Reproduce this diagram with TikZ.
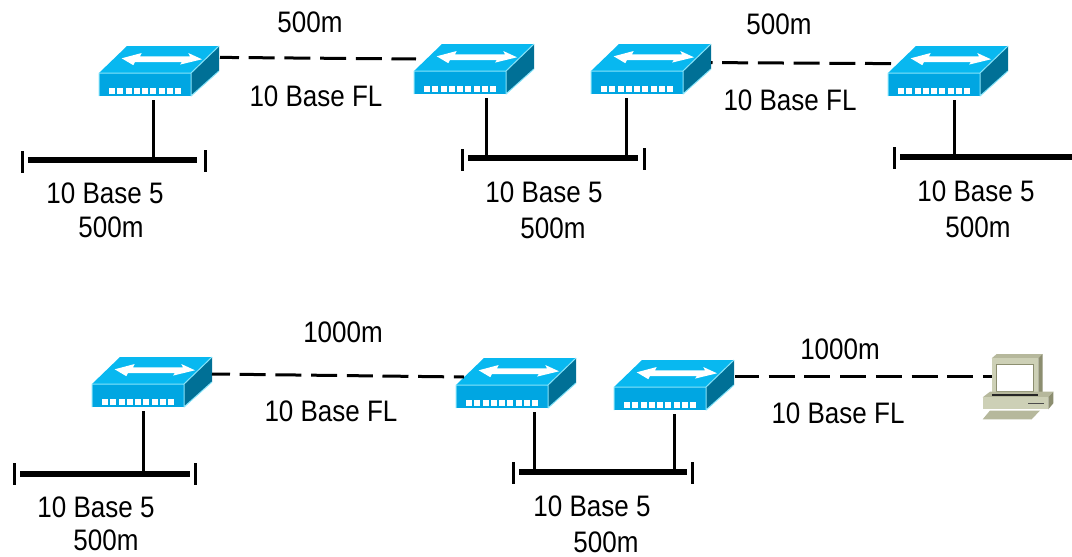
\documentclass[tikz,border=0pt]{standalone}
\usepackage{fontspec}
\setmainfont{Liberation Sans}
\definecolor{swtop}{RGB}{8,184,240}
\definecolor{swfront}{RGB}{0,166,226}
\definecolor{swside}{RGB}{0,112,150}
\definecolor{swedge}{RGB}{135,228,250}
\definecolor{pcfront}{RGB}{205,208,182}
\definecolor{pctop}{RGB}{182,184,156}
\definecolor{pcside}{RGB}{140,142,112}
\tikzset{
    label/.style={font=\fontsize{26}{28}\selectfont, inner sep=0pt, yscale=1.14, transform shape},
    link/.style={line width=3pt, dash pattern=on 26pt off 9.7pt},
    stub/.style={line width=3pt},
    cable/.style={line width=6.4pt},
    endbar/.style={line width=3pt},
    hidden/.style={inner sep=0pt, minimum width=120pt, minimum height=58pt}
}
% Switch icon: name, position
\newcommand{\switchicon}[2]{
    \node (#1) [hidden] at (#2) {};
    \begin{scope}[shift={(#2)}]
        \fill[swtop] (-60,2) -- (32,2) -- (60,-25) -- (-32,-25) -- cycle;
        \fill[swfront] (-60,2) -- (32,2) -- (32,25) -- (-60,25) -- cycle;
        \fill[swside] (32,2) -- (60,-25) -- (60,0) -- (32,25) -- cycle;
        \draw[swedge, line width=1pt, line join=round] (-60,25) -- (-60,2) -- (32,2) -- (60,-25) (32,2) -- (32,25) -- (60,0);
        \fill[white] (-37.3,-12.7) -- (-17.3,-18) -- (-19,-14.6) -- (31,-14.6) -- (29.3,-18) -- (43,-11.7) -- (21,-6.4) -- (23,-9) -- (-24,-9) -- (-25.7,-5.8) -- cycle;
        \foreach \i in {0,...,8}
            \fill[white] (-50+8.25*\i,17) rectangle ++(6.2,6.4);
    \end{scope}
}
% Cable between two x values at one y
\newcommand{\cablerun}[4]{
    \coordinate (#1a) at (#2,#4);
    \coordinate (#1b) at (#3,#4);
    \draw[cable] (#1a) -- (#1b);
}
\begin{document}
\begin{tikzpicture}[x=1pt, y=-1pt]
    \useasboundingbox (0,0) rectangle (1072,557);

    % Top row
    \switchicon{swA}{159,71}
    \switchicon{swB}{474,69}
    \switchicon{swC}{651,69}
    \switchicon{swD}{948,71}

    \coordinate (swAport) at (220,57.4);
    \coordinate (swBport) at (416,59);
    \coordinate (swCport) at (711,62.6);
    \coordinate (swDport) at (891,63.6);
    \draw[link, dash phase=7pt] (swAport) -- (swBport);
    \draw[link, dash phase=24.5pt] (swCport) -- (swDport);

    \cablerun{busA}{28}{197}{160}
    \cablerun{busB}{468}{638}{158}
    \cablerun{busC}{900}{1072}{157}
    \draw[endbar] (22,151) -- (22,173);
    \draw[endbar] (205,150) -- (205,172);
    \draw[endbar] (462,149) -- (462,171);
    \draw[endbar] (644,148) -- (644,170);
    \draw[endbar] (894,147) -- (894,169);

    \coordinate (tapA) at (153,158);
    \coordinate (tapB) at (486,156);
    \coordinate (tapC) at (626,156);
    \coordinate (tapD) at (954,155);
    \draw[stub] (tapA |- swA.south) -- (tapA);
    \draw[stub] (tapB |- swB.south) -- (tapB);
    \draw[stub] (tapC |- swC.south) -- (tapC);
    \draw[stub] (tapD |- swD.south) -- (tapD);

    \node (lenA) [label] at (310,22) {500m};
    \node (typeA) [label] at (316,96) {10 Base FL};
    \node (lenB) [label] at (779,24) {500m};
    \node (typeB) [label] at (790,100) {10 Base FL};
    \node (typeC) [label] at (105,193) {10 Base 5};
    \node (lenC) [label] at (111,227) {500m};
    \node (typeD) [label] at (544,192) {10 Base 5};
    \node (lenD) [label] at (553,228) {500m};
    \node (typeE) [label] at (976,191) {10 Base 5};
    \node (lenE) [label] at (978,227) {500m};

    % Bottom row
    \switchicon{swE}{152,382}
    \switchicon{swF}{516,383}
    \switchicon{swG}{674,385}

    % Computer
    \node (pc) [inner sep=0pt, minimum width=72pt, minimum height=66pt] at (1018,387) {};
    \begin{scope}[shift={(1018,387)}]
        \fill[pctop] (-26.3,-28.7) -- (-21.3,-33) -- (24.7,-33) -- (20.3,-28.7) -- cycle;
        \fill[pcside] (20.3,-28.7) -- (24.7,-33) -- (24.7,5) -- (20.3,8) -- cycle;
        \fill[pcfront] (-26.3,-28.7) rectangle (20.3,8);
        \fill[white, draw=pcside, line width=0.8pt] (-22,-23) rectangle (15.3,4.7);
        \fill[pctop] (-35.3,10.3) -- (-28,4.7) -- (35.3,4.7) -- (30.3,10.3) -- cycle;
        \fill[pcfront] (-35.3,10.3) rectangle (30.3,22.3);
        \fill[pcside] (30.3,10.3) -- (35.3,4.7) -- (35.3,16.3) -- (30.3,22.3) -- cycle;
        \draw[line width=1.8pt, black!85] (-26,8) -- (20.3,8);
        \draw[line width=1.4pt, black!70] (10.3,16.3) -- (26,16.3);
        \fill[pctop] (-35.3,32.3) -- (-28,23.5) -- (22,23.5) -- (13.7,32.3) -- cycle;
    \end{scope}

    \coordinate (swEport) at (212,374);
    \coordinate (swFport) at (464,377);
    \coordinate (swGport) at (735,376.8);
    \coordinate (pcport) at (992,376.8);
    \draw[link, dash phase=8pt] (swEport) -- (swFport);
    \draw[link, dash phase=2pt] (swGport) -- (pcport);

    \cablerun{busD}{20}{190}{474}
    \cablerun{busE}{519}{687}{472}
    \draw[endbar] (14,463) -- (14,485);
    \draw[endbar] (195,463) -- (195,485);
    \draw[endbar] (513,462) -- (513,484);
    \draw[endbar] (692,462) -- (692,484);

    \coordinate (tapE) at (143,472);
    \coordinate (tapF) at (534,470);
    \coordinate (tapG) at (674,470);
    \draw[stub] (tapE |- swE.south) -- (tapE);
    \draw[stub] (tapF |- swF.south) -- (tapF);
    \draw[stub] (tapG |- swG.south) -- (tapG);

    \node (lenF) [label] at (343,332) {1000m};
    \node (typeF) [label] at (331,411) {10 Base FL};
    \node (lenG) [label] at (840,349) {1000m};
    \node (typeG) [label] at (838,413) {10 Base FL};
    \node (typeH) [label] at (96,507) {10 Base 5};
    \node (lenH) [label] at (106,540) {500m};
    \node (typeI) [label] at (592,506) {10 Base 5};
    \node (lenI) [label] at (606,542) {500m};
\end{tikzpicture}
\end{document}
